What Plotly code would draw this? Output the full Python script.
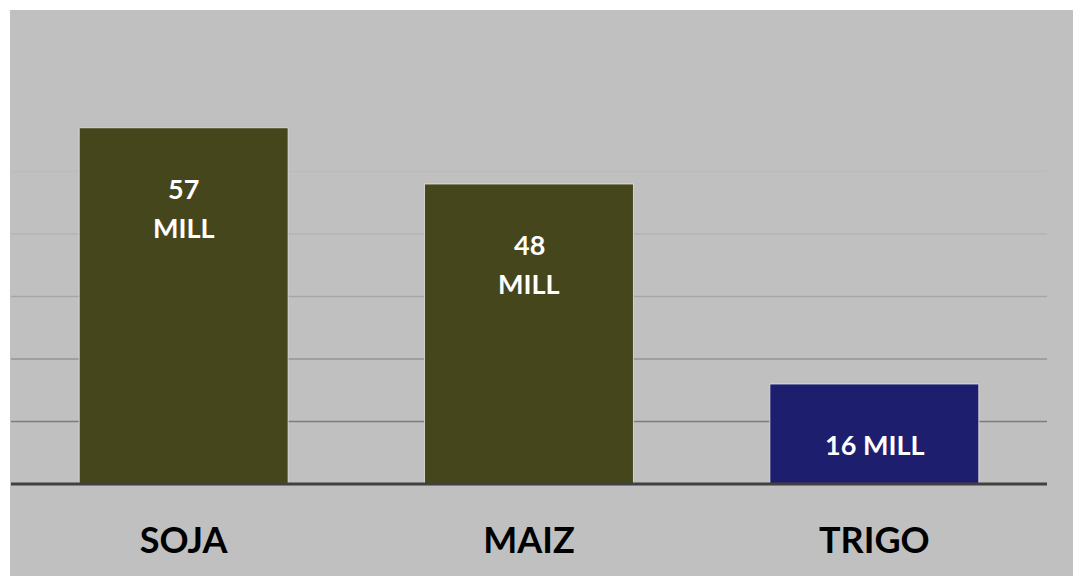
import plotly.graph_objects as go

categories = ["SOJA", "MAIZ", "TRIGO"]
values = [57, 48, 16]
labels = ["57<br>MILL", "48<br>MILL", "16 MILL"]
bar_colors = ["#46461c", "#46461c", "#1e1e6e"]
grid_values = [10, 20, 30, 40, 50]
grid_colors = ["#7c7c7c", "#959595", "#a6a6a6", "#b3b3b3", "#bbbbbb"]

fig = go.Figure()
fig.add_trace(go.Bar(
    x=categories, y=values,
    marker=dict(color=bar_colors, line=dict(color="rgba(230,230,230,0.8)", width=1)),
    hoverinfo="skip",
))

shapes = [dict(type="rect", xref="paper", yref="paper",
               x0=-0.001, x1=1.032, y0=-0.2, y1=1.0,
               fillcolor="#c0c0c0", line=dict(width=0), layer="below")]
for v, c in zip(grid_values, grid_colors):
    shapes.append(dict(type="line", xref="paper", yref="y", x0=0, x1=1, y0=v, y1=v,
                       line=dict(color=c, width=1.5), layer="below"))
# baseline (axis line) drawn in paper coords so it is not clipped
shapes.append(dict(type="line", xref="paper", yref="paper", x0=0, x1=1, y0=0, y1=0,
                   line=dict(color="#404040", width=3), layer="above"))

annotations = []
for cat, val, lab in zip(categories, values, labels):
    for i, line in enumerate(lab.split("<br>")):
        annotations.append(dict(
            x=cat, y=val, xref="x", yref="y", text=line, showarrow=False,
            yanchor="top", yshift=-42 - 39 * i,
            font=dict(family="Lato", size=27, color="white", weight="bold"),
        ))

fig.update_layout(
    width=1073, height=568,
    margin=dict(l=3, r=34, t=2, b=92),
    paper_bgcolor="white", plot_bgcolor="rgba(0,0,0,0)",
    bargap=0.395, showlegend=False,
    shapes=shapes, annotations=annotations,
    xaxis=dict(showgrid=False, showline=False, ticks="", zeroline=False,
               tickfont=dict(family="Lato", size=36, color="black", weight="bold"),
               ticklabelstandoff=32),
    yaxis=dict(range=[0, 75.84], showgrid=False, showticklabels=False,
               zeroline=False, showline=False, ticks=""),
)

fig.write_html("out.html")
